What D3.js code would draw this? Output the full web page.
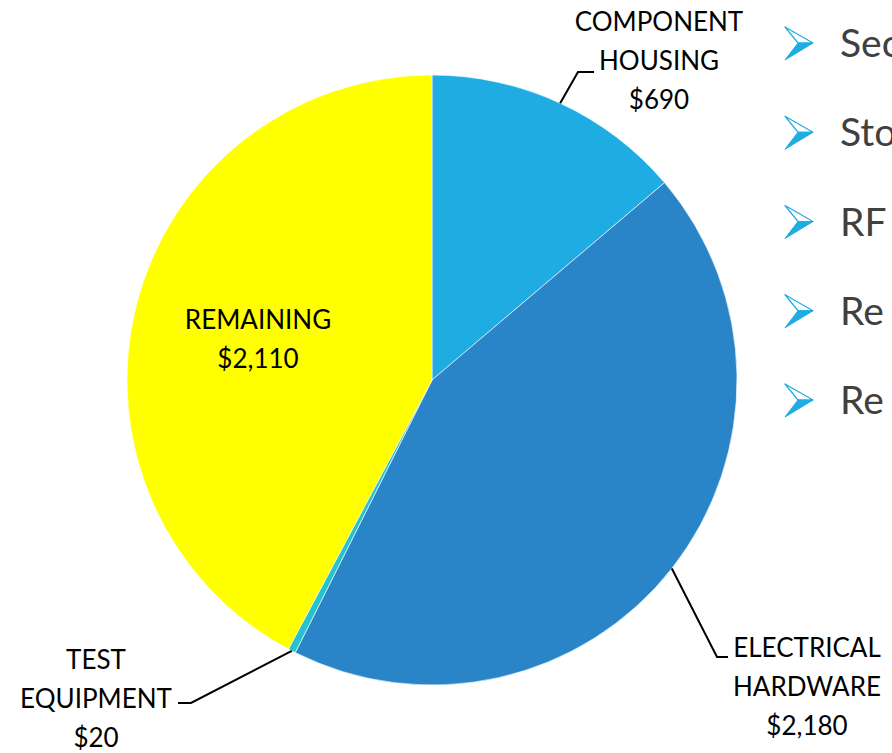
<!DOCTYPE html>
<html>
<head>
<meta charset="utf-8">
<script src="https://cdn.jsdelivr.net/npm/d3@7"></script>
<style>
  html, body { margin: 0; padding: 0; background: #fff; overflow: hidden; }
  svg { display: block; font-family: Lato, "Open Sans", sans-serif; }
</style>
</head>
<body>
<svg id="chart" width="892" height="753"></svg>
<script>
// Budget split (USD)
const categories = ['COMPONENT\nHOUSING', 'ELECTRICAL\nHARDWARE', 'TEST\nEQUIPMENT', 'REMAINING'];
const values = [690, 2180, 20, 2110];
const colors = ['#1facE3', '#2984c8', '#27c2cc', '#ffff00'];
const bullets = ['Sec', 'Sto', 'RF', 'Re', 'Re'];

// layout
const cx = 432, cy = 380, radius = 305;
const fontSize = 26, lineH = 39;
// per slice: where the leader elbow sits and where the label block is centred
const labelLayout = [
  { elbow: [578, 72], end: [594, 72], tx: 659, ty: 22 },
  { elbow: [717, 657], end: [728, 657], tx: 807, ty: 648 },
  { elbow: [191, 703], end: [178, 703], tx: 96, ty: 660 },
  { inside: true, tx: 258, ty: 320 }
];

const svg = d3.select('#chart');
const fmt = d3.format('$,');

const data = categories.map((c, i) => ({ name: c, value: values[i], color: colors[i] }));
const pie = d3.pie().sort(null).value((d) => d.value);
const arc = d3.arc().innerRadius(0).outerRadius(radius);
const arcs = pie(data);

const g = svg.append('g').attr('transform', `translate(${cx},${cy})`);
g.selectAll('path.slice')
  .data(arcs)
  .join('path')
  .attr('class', 'slice')
  .attr('d', arc)
  .attr('fill', (d) => d.data.color)
  .attr('stroke', '#ffffff')
  .attr('stroke-width', 0.6);

// leader lines, starting on the rim at each slice's mid angle
arcs.forEach((a, i) => {
  const L = labelLayout[i];
  if (L.inside) return;
  const mid = (a.startAngle + a.endAngle) / 2;
  const sx = cx + radius * Math.sin(mid);
  const sy = cy - radius * Math.cos(mid);
  svg.append('polyline')
    .attr('points', [[sx, sy], L.elbow, L.end].map((p) => p.join(',')).join(' '))
    .attr('fill', 'none')
    .attr('stroke', '#000')
    .attr('stroke-width', 2);
});

// labels
arcs.forEach((a, i) => {
  const L = labelLayout[i];
  const lines = a.data.name.split('\n').concat(fmt(a.data.value));
  const t = svg.append('text')
    .attr('text-anchor', 'middle')
    .attr('font-size', fontSize)
    .attr('fill', '#000');
  lines.forEach((ln, k) => {
    t.append('tspan')
      .attr('x', L.tx)
      .attr('y', L.ty + k * lineH)
      .attr('dy', '0.36em')
      .text(ln);
  });
});

// bullet list on the right, cut off by the page edge as in the source slide
const by = d3.scalePoint().domain(d3.range(bullets.length)).range([43, 400]);
const bg = svg.append('g');
bullets.forEach((b, i) => {
  const y = by(i);
  const row = bg.append('g').attr('transform', `translate(785,${y})`);
  // upper half: outline
  row.append('path')
    .attr('d', 'M0,-16 L28,0 L13,0 Z')
    .attr('fill', '#fff')
    .attr('stroke', '#1facE3')
    .attr('stroke-width', 1.2)
    .attr('stroke-linejoin', 'round');
  // lower half: filled
  row.append('path')
    .attr('d', 'M0,17 L28,0 L13,0 Z')
    .attr('fill', '#1facE3')
    .attr('stroke', '#1facE3')
    .attr('stroke-width', 1)
    .attr('stroke-linejoin', 'round');
  row.append('text')
    .attr('x', 55)
    .attr('y', 0)
    .attr('dy', '0.36em')
    .attr('font-size', 39)
    .attr('fill', '#404040')
    .text(b);
});
</script>
</body>
</html>
